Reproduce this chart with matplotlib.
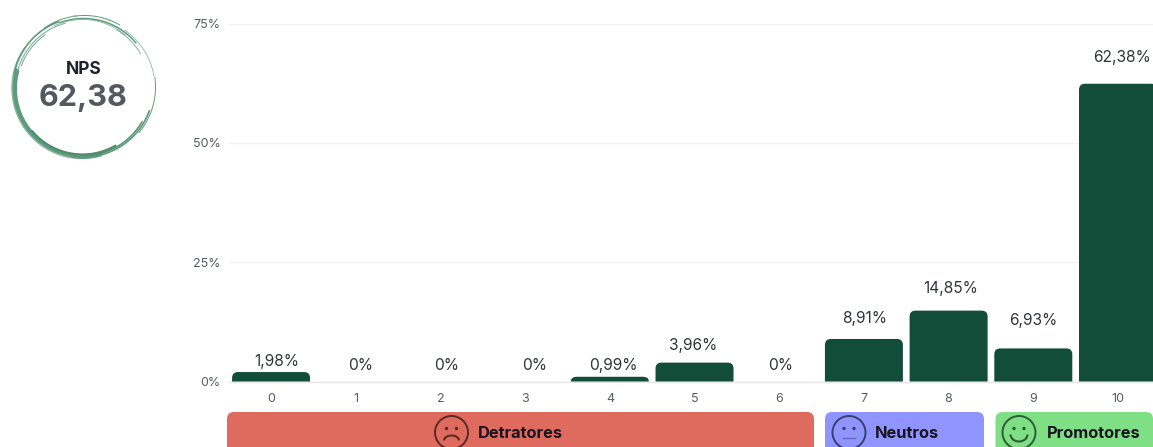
import numpy as np
import matplotlib
matplotlib.use('Agg')
import matplotlib.pyplot as plt
from matplotlib.path import Path
from matplotlib.patches import PathPatch, FancyBboxPatch, Circle, Arc

plt.rcParams['font.family'] = ['Inter', 'DejaVu Sans']

categories = ['0', '1', '2', '3', '4', '5', '6', '7', '8', '9', '10']
values = [1.98, 0, 0, 0, 0.99, 3.96, 0, 8.91, 14.85, 6.93, 62.38]
value_labels = ['1,98%', '0%', '0%', '0%', '0,99%', '3,96%', '0%', '8,91%', '14,85%', '6,93%', '62,38%']
y_ticks = [0, 25, 50, 75]
y_tick_labels = ['0%', '25%', '50%', '75%']
nps_title = 'NPS'
nps_value = '62,38'
groups = ['Detratores', 'Neutros', 'Promotores']

# label nudges in pixels (layout only)
label_dx = [6, 5, 6, 9, 4, -1, 1, 1, 2, 0, 4]
label_dy = [3, 8, 8, 8, 4, 10, 8, 13, 15, 20, 19]

W, H = 1153, 447
BAR = '#114D39'
fig = plt.figure(figsize=(W / 100, H / 100), dpi=100, facecolor='white')

left, right, y0, y75 = 228.7, 1153, 381.5, 23.5
ax = fig.add_axes([left / W, (H - y0) / H, (right - left) / W, (y0 - y75) / H])
ax.set_xlim(-0.5, (right - 271) / 84.7)
ax.set_ylim(0, 75)
ax.patch.set_alpha(0)
for s in ['top', 'right', 'left']:
    ax.spines[s].set_visible(False)
ax.spines['bottom'].set_color('#e6e6e6')
ax.spines['bottom'].set_linewidth(1)
ax.set_yticks(y_ticks, y_tick_labels)
ax.set_xticks(range(len(categories)), categories)
ax.tick_params(axis='both', length=0, labelsize=9, labelcolor='#555b66')
ax.tick_params(axis='y', pad=6)
ax.tick_params(axis='x', pad=8)
ax.grid(axis='y', color='#f3f3f3', lw=1)
ax.set_axisbelow(True)

bars = ax.bar(range(len(values)), values, width=78 / 84.7, color='none')
rx = 6 / 84.7
ry_unit = 75 / (y0 - y75)
for i, (b, v, lab) in enumerate(zip(bars, values, value_labels)):
    x0, w, h = b.get_x(), b.get_width(), b.get_height()
    if h > 0:
        ry = min(6 * ry_unit, h)
        x1 = x0 + w
        verts = [(x0, 0), (x0, h - ry), (x0, h), (x0 + rx, h), (x1 - rx, h), (x1, h), (x1, h - ry), (x1, 0), (x0, 0)]
        codes = [Path.MOVETO, Path.LINETO, Path.CURVE3, Path.CURVE3, Path.LINETO, Path.CURVE3, Path.CURVE3, Path.LINETO, Path.CLOSEPOLY]
        ax.add_patch(PathPatch(Path(verts, codes), fc=BAR, ec='none', zorder=3))
    ax.annotate(lab, (i, v), xytext=(label_dx[i], label_dy[i]), textcoords='offset pixels',
                ha='center', va='bottom', fontsize=11.2, color='#30343a', annotation_clip=False, zorder=4)

ov = fig.add_axes([0, 0, 1, 1])
ov.set_xlim(0, W)
ov.set_ylim(H, 0)
ov.axis('off')
ov.patch.set_alpha(0)

# brush-like NPS ring; angle 90 is the bottom on this inverted overlay
cx, cy = 83.5, 87
G1, G2, G3 = '#5f9a7c', '#4f8d6d', '#8ab8a0'

def stroke(dx, dy, r, t1, t2, lw, col):
    t = np.deg2rad(np.linspace(t1, t2, 120))
    ov.plot(cx + dx + r * np.cos(t), cy + dy + r * np.sin(t), color=col, lw=lw, solid_capstyle='round')

for dx, dy, r, t1, t2, lw, col in [
    (-1, 1.5, 68.0, 75, 195, 3.6, G1),
    (-1, 1.5, 66.0, 60, 140, 1.6, G2),
    (-1, 1, 70.5, 100, 215, 1.0, G3),
    (-1, 0, 69.5, 190, 250, 1.2, G1),
    (-1, 1, 67.0, 195, 255, 0.9, G3),
    (-1, 1, 65.0, 200, 235, 0.6, G1),
    (0, 0, 70.0, 20, 90, 1.3, G1),
    (0, 1, 67.5, 30, 85, 1.0, G2),
    (1, 0, 71.0, -8, 40, 0.7, G1),
    (0, 0, 68.5, 250, 320, 1.1, G1),
    (-1, -1, 66.5, 245, 310, 0.7, G3),
    (1, -1, 70.5, 235, 300, 0.7, G1),
    (1, 1, 70.5, 305, 350, 0.6, G3),
    (0, 0, 66.0, 300, 330, 0.5, G1),
    (0, 0, 71.5, 261, 265, 0.8, G3),
    (0, 0, 71.5, 286, 291, 0.9, G3),
]:
    stroke(dx, dy, r, t1, t2, lw, col)

ov.text(83.5, 69.5, nps_title, ha='center', va='center', fontsize=12.5, fontweight='bold', color='#1d2130')
ov.text(83.5, 98.5, nps_value, ha='center', va='center', fontsize=22, fontweight='bold', color='#555860')

def face(x, y, kind, col):
    r = 16.5
    ov.add_patch(Circle((x, y), r, fc='none', ec=col, lw=1.4))
    ov.add_patch(Circle((x - 5, y - 4), 1.7, fc=col, ec='none'))
    ov.add_patch(Circle((x + 5, y - 4), 1.7, fc=col, ec='none'))
    if kind == 'sad':
        ov.add_patch(Arc((x, y + 8), 15, 10, theta1=180, theta2=360, color=col, lw=1.5))
    elif kind == 'neutral':
        ov.plot([x - 6, x + 6], [y + 5, y + 5], color=col, lw=1, alpha=.5)
    else:
        ov.add_patch(Arc((x, y + 2), 17, 14, theta1=0, theta2=180, color=col, lw=1.5))

band_x = [(227, 814), (825, 984), (995.5, 1153)]
band_col = ['#DE6B5E', '#8F94FF', '#7FDF85']
kinds = ['sad', 'neutral', 'happy']
face_x = [451.5, 849, 1019]
text_x = [478, 875, 1047]
face_col = ['#5a2a26', '#3b3f70', '#2f5c35']
for (a, b), c, g, k, fx, tx, fc in zip(band_x, band_col, groups, kinds, face_x, text_x, face_col):
    ov.add_patch(FancyBboxPatch((a + 7, 419), b - a - 14, 60, boxstyle='round,pad=7,rounding_size=7', fc=c, ec='none'))
    face(fx, 432.5, k, fc)
    ov.text(tx, 433, g, ha='left', va='center', fontsize=11.8, fontweight='bold', color='#1a1420')

fig.savefig('out.png', dpi=100)
